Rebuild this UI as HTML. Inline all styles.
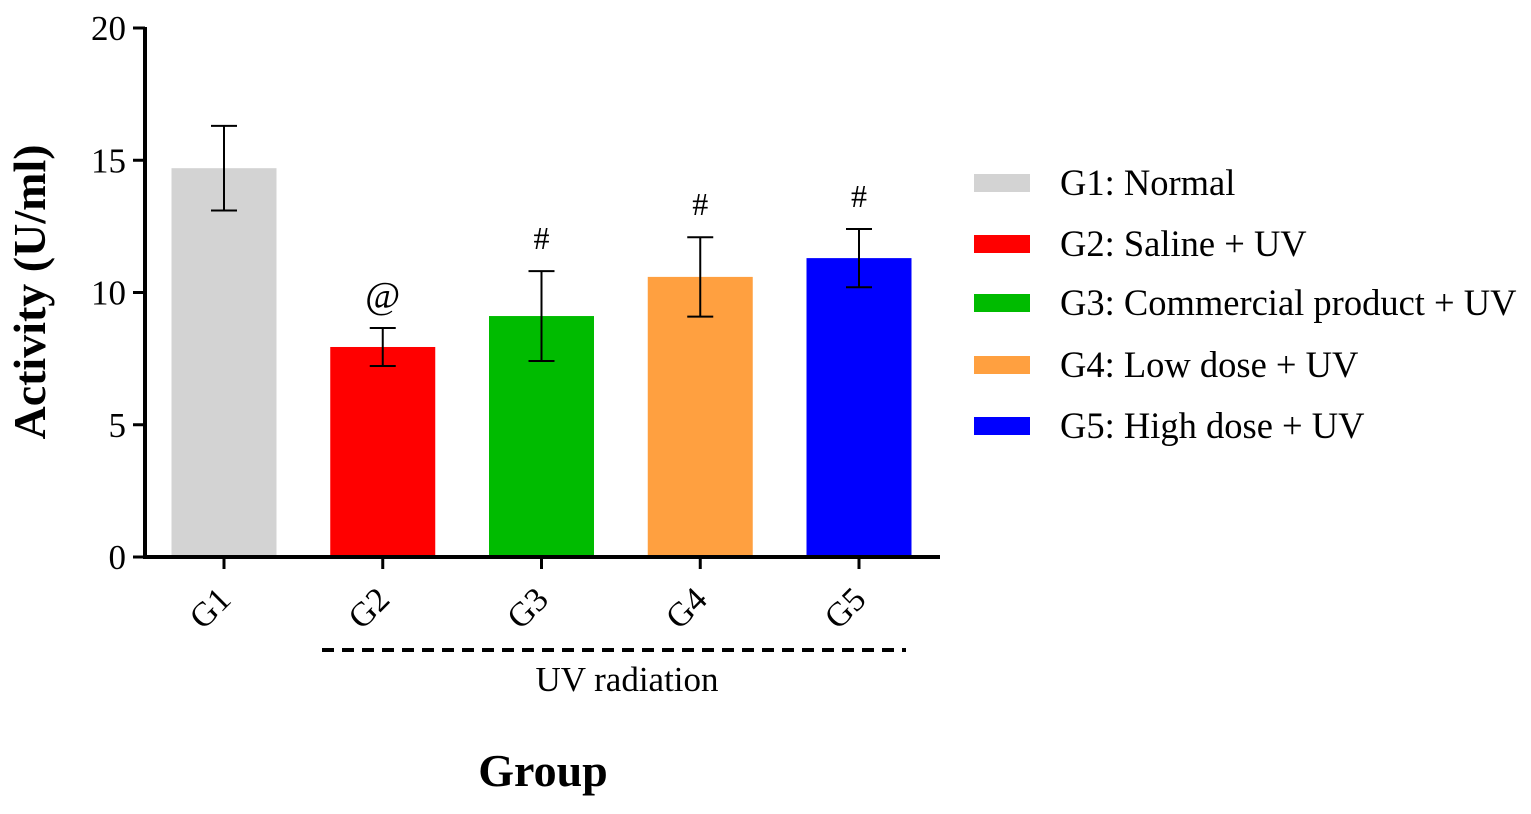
<!DOCTYPE html>
<html><head><meta charset="utf-8"><style>
html,body{margin:0;padding:0;background:#fff;}
svg{display:block;font-family:"Liberation Serif",serif;}
</style></head><body>
<svg id="chart" width="1531" height="814" viewBox="0 0 1531 814" xmlns="http://www.w3.org/2000/svg">
<g id="plot"></g>
<g id="legend"></g>
</svg>
<script>
const categories = ["G1","G2","G3","G4","G5"];
const values = [14.7, 7.94, 9.11, 10.59, 11.3];
const errors = [1.6, 0.72, 1.7, 1.5, 1.1];
const marks = ["", "@", "#", "#", "#"];
const colors = ["#d3d3d3","#ff0000","#00bb00","#ffa040","#0000ff"];
const legendLabels = ["G1: Normal","G2: Saline + UV","G3: Commercial product + UV","G4: Low dose + UV","G5: High dose + UV"];
const yTicks = [0,5,10,15,20];

const NS="http://www.w3.org/2000/svg";
const plot=document.getElementById('plot');
const legend=document.getElementById('legend');
const x0=145,x1=940,yBase=557,yTop=28,yMax=20;
const y=v=>yBase-(yBase-yTop)*v/yMax;
const xc=i=>224+i*158.75;
const barW=105;
function mk(tag,attrs,parent,text){const e=document.createElementNS(NS,tag);for(const k in attrs)e.setAttribute(k,attrs[k]);if(text!==undefined)e.textContent=text;parent.appendChild(e);return e;}

categories.forEach((c,i)=>{
  const b=mk('rect',{x:xc(i)-barW/2,y:y(values[i]),width:barW,height:yBase-y(values[i]),fill:colors[i]},plot);
  
  
  const g=mk('g',{stroke:'#000','stroke-width':2},plot);
  
  
  const hi=y(values[i]+errors[i]),lo=y(values[i]-errors[i]);
  mk('line',{x1:xc(i),x2:xc(i),y1:hi,y2:lo},g);
  mk('line',{x1:xc(i)-13,x2:xc(i)+13,y1:hi,y2:hi},g);
  mk('line',{x1:xc(i)-13,x2:xc(i)+13,y1:lo,y2:lo},g);
  if(marks[i]){
    const t=mk('text',{x:xc(i),y:hi-(marks[i]=='@'?20:22),'text-anchor':'middle','font-size':marks[i]=='@'?38:32},plot,marks[i]);
    
    
  }
  const tk=mk('line',{x1:xc(i),x2:xc(i),y1:yBase,y2:569,stroke:'#000','stroke-width':3},plot);
  
  
  const tl=mk('text',{x:0,y:0,'text-anchor':'middle','font-size':34,transform:`translate(${xc(i)-6},${616}) rotate(-45)`},plot,c);
  
  
});
yTicks.forEach(v=>{
  const tk=mk('line',{x1:133,x2:x0,y1:y(v),y2:y(v),stroke:'#000','stroke-width':3},plot);
  
  
  const tl=mk('text',{x:126,y:y(v)+12,'text-anchor':'end','font-size':35},plot,String(v));
  
  
});
const ya=mk('line',{x1:x0,x2:x0,y1:yTop-1,y2:yBase+1.5,stroke:'#000','stroke-width':4},plot);


const xa=mk('line',{x1:x0-2,x2:x1,y1:yBase,y2:yBase,stroke:'#000','stroke-width':4},plot);


const dl=mk('line',{x1:322,x2:906,y1:650,y2:650,stroke:'#000','stroke-width':4,'stroke-dasharray':'12,8'},plot);


const uv=mk('text',{x:627,y:691,'text-anchor':'middle','font-size':35},plot,'UV radiation');


const xt=mk('text',{x:543,y:786,'text-anchor':'middle','font-size':46,'font-weight':'bold'},plot,'Group');


const yt=mk('text',{x:0,y:0,'text-anchor':'middle','font-size':46,'font-weight':'bold',transform:'translate(45,292) rotate(-90)'},plot,'Activity (U/ml)');



const legY=[183,244,303,365,426];
legendLabels.forEach((l,i)=>{
  const g=mk('g',{},legend);
  
  
  mk('rect',{x:974,y:legY[i]-9,width:56,height:18,fill:colors[i]},g);
  mk('text',{x:1060,y:legY[i]+12,'font-size':36.5},g,l);
});
</script>
</body></html>
